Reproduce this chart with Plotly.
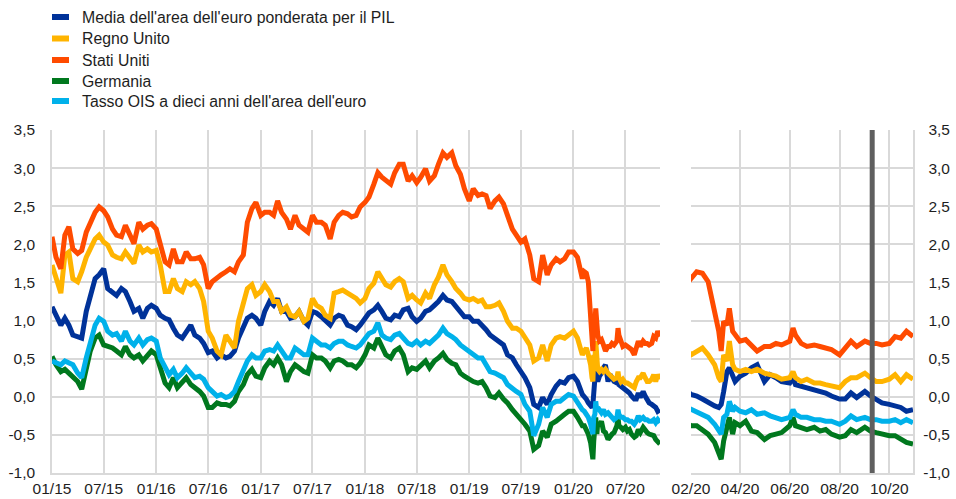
import pandas as pd
import plotly.graph_objects as go

# ---------------- data ----------------
# half-monthly observations, 1 Jan 2015 .. 15 Jan 2020 (122 points)
half_month_dates = []
for y in range(2015, 2021):
    for mth in range(1, 13):
        for d in (1, 15):
            dt = pd.Timestamp(y, mth, d)
            if dt <= pd.Timestamp(2020, 1, 15):
                half_month_dates.append(dt)

# finer observations, Feb - Oct 2020
dates_2020 = ["2020-02-01", "2020-02-08", "2020-02-15", "2020-02-22", "2020-03-01", "2020-03-06",
              "2020-03-09", "2020-03-12", "2020-03-16", "2020-03-19", "2020-03-23", "2020-03-26",
              "2020-04-01", "2020-04-08", "2020-04-15", "2020-04-22", "2020-05-01", "2020-05-08",
              "2020-05-15", "2020-05-22", "2020-06-01", "2020-06-05", "2020-06-08", "2020-06-15",
              "2020-06-22", "2020-07-01", "2020-07-08", "2020-07-15", "2020-07-22", "2020-08-01",
              "2020-08-08", "2020-08-15", "2020-08-22", "2020-09-01", "2020-09-08", "2020-09-15",
              "2020-09-22", "2020-10-01", "2020-10-08", "2020-10-15", "2020-10-22", "2020-10-30"]

ea_hist = [1.18, 1.07, 0.94, 1.03, 0.94, 0.81, 0.79, 0.77, 1.12, 1.29, 1.55, 1.60, 1.68, 1.42, 1.38, 1.33, 1.42, 1.38, 1.25, 1.12,
           1.16, 1.03, 1.16, 1.20, 1.16, 1.07, 1.03, 1.01, 0.90, 0.81, 0.77, 0.86, 0.94, 0.81, 0.77, 0.70, 0.58,
           0.60, 0.51, 0.55, 0.51, 0.53, 0.60, 0.77, 0.90, 1.03, 1.07, 1.03, 0.94, 1.12, 1.25, 1.20, 1.29, 1.12, 1.12, 1.03,
           1.05, 1.12, 0.99, 0.94, 1.12, 1.10, 1.05, 0.99, 0.94, 1.03, 1.07, 1.05, 0.94, 0.92, 0.88, 0.94, 1.03, 1.10,
           1.14, 1.20, 1.12, 1.03, 1.01, 1.07, 1.05, 1.14, 1.16, 1.05, 0.99, 1.03, 1.12, 1.14, 1.20, 1.25, 1.33, 1.27,
           1.25, 1.18, 1.12, 1.05, 1.05, 0.99, 0.99, 0.94, 0.88, 0.81, 0.77, 0.73, 0.68, 0.55, 0.51, 0.42,
           0.33, 0.25, 0.12, -0.10, -0.14, -0.01, -0.10, 0.03, 0.14, 0.20, 0.18, 0.25, 0.27, 0.20]
uk_hist = [1.73, 1.55, 1.36, 1.86, 1.90, 1.55, 1.51, 1.64, 1.83, 1.94, 2.07, 2.12, 2.03, 1.99, 1.86, 1.83, 1.81, 1.90, 1.81, 1.75,
           1.99, 1.90, 1.94, 1.90, 1.92, 1.73, 1.38, 1.38, 1.55, 1.42, 1.38, 1.51, 1.47, 1.51, 1.42, 1.25, 0.86,
           0.77, 0.60, 0.55, 0.81, 0.73, 0.64, 0.99, 1.20, 1.42, 1.47, 1.33, 1.38, 1.47, 1.38, 1.25, 1.25, 1.12, 1.18, 1.07,
           1.05, 1.12, 0.99, 1.03, 1.29, 1.20, 1.16, 1.07, 1.03, 1.36, 1.38, 1.40, 1.36, 1.33, 1.29, 1.23, 1.29, 1.42,
           1.49, 1.64, 1.55, 1.47, 1.44, 1.51, 1.55, 1.51, 1.29, 1.33, 1.27, 1.23, 1.36, 1.29, 1.47, 1.57, 1.73, 1.60,
           1.51, 1.42, 1.36, 1.29, 1.27, 1.29, 1.25, 1.27, 1.18, 1.18, 1.20, 1.23, 1.12, 0.99, 0.90, 0.90,
           0.86, 0.77, 0.68, 0.47, 0.51, 0.68, 0.47, 0.68, 0.77, 0.79, 0.77, 0.81, 0.86, 0.77]
us_hist = [2.10, 1.83, 1.68, 2.12, 2.23, 1.94, 1.88, 1.92, 2.16, 2.29, 2.42, 2.49, 2.44, 2.36, 2.20, 2.12, 2.10, 2.25, 2.12, 2.01,
           2.29, 2.20, 2.25, 2.27, 2.20, 2.03, 1.77, 1.73, 1.94, 1.77, 1.77, 1.90, 1.81, 1.81, 1.83, 1.73, 1.42,
           1.51, 1.57, 1.60, 1.64, 1.68, 1.64, 1.77, 1.86, 2.29, 2.47, 2.55, 2.38, 2.42, 2.42, 2.38, 2.57, 2.42, 2.33, 2.20,
           2.38, 2.25, 2.20, 2.16, 2.38, 2.29, 2.29, 2.25, 2.07, 2.29, 2.38, 2.42, 2.40, 2.36, 2.38, 2.49, 2.55, 2.62,
           2.79, 2.94, 2.88, 2.83, 2.79, 2.94, 3.05, 3.05, 2.83, 2.90, 2.81, 2.88, 2.99, 2.83, 2.90, 3.05, 3.20, 3.14,
           3.20, 3.03, 2.92, 2.73, 2.57, 2.73, 2.64, 2.66, 2.64, 2.47, 2.57, 2.62, 2.53, 2.38, 2.20, 2.12,
           2.03, 2.07, 1.86, 1.55, 1.51, 1.86, 1.60, 1.73, 1.81, 1.77, 1.81, 1.90, 1.90, 1.83]
de_hist = [0.53, 0.42, 0.33, 0.36, 0.31, 0.25, 0.20, 0.10, 0.38, 0.60, 0.77, 0.81, 0.68, 0.66, 0.64, 0.60, 0.55, 0.66, 0.55, 0.51,
           0.55, 0.47, 0.55, 0.60, 0.55, 0.38, 0.18, 0.12, 0.25, 0.12, 0.18, 0.25, 0.16, 0.12, 0.07, 0.01, -0.14,
           -0.14, -0.08, -0.10, -0.10, -0.12, -0.06, 0.07, 0.16, 0.29, 0.36, 0.27, 0.25, 0.38, 0.47, 0.42, 0.51, 0.42, 0.20, 0.33,
           0.42, 0.38, 0.33, 0.31, 0.55, 0.51, 0.51, 0.47, 0.38, 0.47, 0.49, 0.47, 0.42, 0.42, 0.38, 0.44, 0.55, 0.68,
           0.64, 0.77, 0.64, 0.55, 0.51, 0.60, 0.64, 0.55, 0.33, 0.38, 0.36, 0.42, 0.47, 0.38, 0.47, 0.51, 0.57, 0.49,
           0.44, 0.42, 0.31, 0.27, 0.23, 0.20, 0.18, 0.20, 0.12, 0.01, -0.01, 0.05, -0.03, -0.08, -0.17, -0.23,
           -0.29, -0.36, -0.45, -0.69, -0.64, -0.45, -0.53, -0.36, -0.32, -0.27, -0.23, -0.19, -0.19, -0.27]
ois_hist = [0.47, 0.44, 0.42, 0.47, 0.44, 0.42, 0.31, 0.25, 0.51, 0.73, 0.94, 1.03, 0.99, 0.86, 0.81, 0.83, 0.73, 0.86, 0.73, 0.68,
            0.77, 0.68, 0.75, 0.77, 0.73, 0.51, 0.38, 0.29, 0.36, 0.25, 0.31, 0.38, 0.31, 0.25, 0.27, 0.23, 0.12,
            0.07, 0.01, 0.03, -0.01, 0.01, 0.07, 0.20, 0.33, 0.47, 0.55, 0.51, 0.51, 0.60, 0.62, 0.60, 0.68, 0.60, 0.51, 0.51,
            0.64, 0.60, 0.55, 0.55, 0.77, 0.73, 0.68, 0.68, 0.64, 0.70, 0.73, 0.73, 0.68, 0.66, 0.64, 0.68, 0.75, 0.83,
            0.86, 0.97, 0.81, 0.77, 0.75, 0.81, 0.83, 0.77, 0.70, 0.68, 0.73, 0.68, 0.73, 0.70, 0.75, 0.81, 0.90, 0.83,
            0.79, 0.75, 0.68, 0.64, 0.60, 0.55, 0.51, 0.51, 0.42, 0.33, 0.31, 0.29, 0.25, 0.16, 0.12, 0.07,
            0.03, -0.10, -0.19, -0.51, -0.36, -0.14, -0.27, -0.10, -0.06, -0.06, -0.01, 0.03, 0.01, -0.08]

ea_2020 = [0.03, 0.01, -0.03, -0.08, -0.12, -0.14, -0.10, 0.07, 0.33, 0.38, 0.25, 0.20, 0.27, 0.31, 0.38, 0.42,
           0.20, 0.29, 0.25, 0.20, 0.18, 0.25, 0.16, 0.14, 0.12, 0.10, 0.07, 0.05, 0.01, -0.03, -0.03, 0.05,
           -0.01, 0.07, 0.01, -0.03, -0.08, -0.10, -0.12, -0.14, -0.19, -0.17]
uk_2020 = [0.55, 0.60, 0.64, 0.55, 0.42, 0.25, 0.20, 0.55, 0.47, 0.73, 0.42, 0.36, 0.33, 0.36, 0.33, 0.36,
           0.31, 0.29, 0.27, 0.23, 0.25, 0.33, 0.25, 0.20, 0.23, 0.18, 0.18, 0.16, 0.14, 0.12, 0.20, 0.25,
           0.25, 0.31, 0.25, 0.20, 0.20, 0.23, 0.29, 0.20, 0.29, 0.23]
us_2020 = [1.55, 1.64, 1.62, 1.51, 1.12, 0.86, 0.60, 0.99, 0.94, 1.16, 0.86, 0.81, 0.73, 0.75, 0.68, 0.60,
           0.66, 0.66, 0.70, 0.68, 0.73, 0.90, 0.81, 0.70, 0.66, 0.68, 0.66, 0.64, 0.62, 0.55, 0.64, 0.73,
           0.66, 0.73, 0.70, 0.70, 0.68, 0.70, 0.79, 0.77, 0.86, 0.79]
de_2020 = [-0.38, -0.38, -0.43, -0.49, -0.60, -0.73, -0.82, -0.58, -0.36, -0.27, -0.49, -0.34, -0.38, -0.32, -0.45, -0.47,
           -0.56, -0.51, -0.49, -0.47, -0.38, -0.27, -0.38, -0.40, -0.43, -0.40, -0.45, -0.43, -0.49, -0.53, -0.51, -0.43,
           -0.47, -0.40, -0.45, -0.47, -0.49, -0.51, -0.51, -0.56, -0.60, -0.62]
ois_2020 = [-0.17, -0.19, -0.23, -0.27, -0.36, -0.43, -0.49, -0.27, -0.23, -0.06, -0.19, -0.14, -0.19, -0.21, -0.17, -0.23,
            -0.21, -0.25, -0.27, -0.30, -0.27, -0.17, -0.23, -0.27, -0.27, -0.30, -0.30, -0.32, -0.32, -0.36, -0.32, -0.25,
            -0.30, -0.27, -0.30, -0.30, -0.32, -0.32, -0.30, -0.34, -0.30, -0.34]

series_names = ["Media dell'area dell'euro ponderata per il PIL", "Regno Unito", "Stati Uniti", "Germania",
                "Tasso OIS a dieci anni dell'area dell'euro"]
series_colors = ["#003299", "#FFB400", "#FF4B00", "#00781E", "#00B1EA"]
series_hist = [ea_hist, uk_hist, us_hist, de_hist, ois_hist]
series_2020 = [ea_2020, uk_2020, us_2020, de_2020, ois_2020]

y_tickvals = [-1.0, -0.5, 0.0, 0.5, 1.0, 1.5, 2.0, 2.5, 3.0, 3.5]
y_ticktext = ["-1,0", "-0,5", "0,0", "0,5", "1,0", "1,5", "2,0", "2,5", "3,0", "3,5"]
marker_date = "2020-09-10"

# ---------------- figure ----------------
all_dates = list(half_month_dates) + [pd.Timestamp(d) for d in dates_2020]

FONT = "Liberation Sans, Arial, sans-serif"
TXT = "#1e1e1e"
GRID = "#d9d9d9"

fig = go.Figure()
for name, col, h, r in zip(series_names, series_colors, series_hist, series_2020):
    vals = list(h) + list(r)
    fig.add_trace(go.Scatter(x=all_dates, y=vals, mode="lines", name=name,
                             line=dict(color=col, width=5), showlegend=False,
                             xaxis="x", yaxis="y"))
    fig.add_trace(go.Scatter(x=all_dates, y=vals, mode="lines", name=name,
                             line=dict(color=col, width=5), showlegend=False,
                             xaxis="x2", yaxis="y2"))
# trace registering the right-hand label axis
fig.add_trace(go.Scatter(x=[], y=[], xaxis="x2", yaxis="y3", showlegend=False, hoverinfo="skip"))

W, H = 956, 499
ML, MR, MT, MB = 52, 4, 130, 26
pw = W - ML - MR
ph = H - MT - MB

def px_x(x):
    return (x - ML) / pw

def px_y(y):
    return (H - MB - y) / ph

axis_font = dict(family=FONT, size=15.5, color=TXT)

fig.update_layout(
    width=W, height=H,
    margin=dict(l=ML, r=MR, t=MT, b=MB, autoexpand=False),
    paper_bgcolor="white", plot_bgcolor="white",
    font=dict(family=FONT, color=TXT),
    xaxis=dict(domain=[0, px_x(660)], type="date", range=["2015-01-01", "2020-10-30"],
               tick0="2015-01-01", dtick="M6", tickformat="%m/%y", automargin=False,
               showgrid=True, gridcolor=GRID, gridwidth=1.5, zeroline=False,
               showline=True, linecolor=GRID, linewidth=2, ticks="", ticklabelstandoff=0,
               tickfont=axis_font, anchor="y"),
    yaxis=dict(domain=[0, 1], range=[-1.0, 3.5], tickvals=y_tickvals, ticktext=y_ticktext,
               showgrid=True, gridcolor=GRID, gridwidth=1.5, zeroline=False, automargin=False,
               showline=True, linecolor=GRID, linewidth=1.5, ticks="", ticklabelstandoff=12,
               tickfont=axis_font, anchor="x"),
    xaxis2=dict(domain=[px_x(691), px_x(913)], type="date", range=["2020-02-01", "2020-10-30"],
                tick0="2020-02-01", dtick="M2", tickformat="%m/%y", automargin=False,
                showgrid=True, gridcolor=GRID, gridwidth=1.5, zeroline=False,
                showline=True, linecolor=GRID, linewidth=2, ticks="", ticklabelstandoff=0,
                tickfont=axis_font, anchor="y2"),
    yaxis2=dict(domain=[0, 1], range=[-1.0, 3.5], tickvals=y_tickvals, automargin=False,
                showgrid=True, gridcolor=GRID, gridwidth=1.5, zeroline=False,
                showline=True, linecolor=GRID, linewidth=1.5, ticks="",
                showticklabels=False, side="right", anchor="x2"),
    yaxis3=dict(range=[-1.0, 3.5], tickvals=y_tickvals, ticktext=y_ticktext, automargin=False,
                overlaying="y2", side="left", anchor="free", position=1.0,
                showgrid=False, zeroline=False, showline=False, ticks="",
                ticklabelstandoff=2, tickfont=axis_font),
)

# vertical marker line in the right panel
fig.add_shape(type="line", xref="x2", yref="y2 domain", x0=marker_date, x1=marker_date,
              y0=0, y1=1, line=dict(color="#5f5f5f", width=5), layer="above")

# legend (manual, to match the short bar keys)
legend_rows = [17, 38.5, 60, 81, 101]
for name, col, yp in zip(series_names, series_colors, legend_rows):
    fig.add_shape(type="rect", xref="paper", yref="paper",
                  x0=px_x(52), x1=px_x(69), y0=px_y(yp + 3), y1=px_y(yp - 3),
                  fillcolor=col, line=dict(width=0))
    fig.add_annotation(xref="paper", yref="paper", x=px_x(80), y=px_y(yp),
                       xanchor="left", yanchor="middle", text=name, showarrow=False,
                       font=dict(family=FONT, size=15.8, color=TXT))

fig.write_html("out.html", config={"displayModeBar": False},
               post_script="document.body.style.margin='0';document.body.style.overflow='hidden';")
